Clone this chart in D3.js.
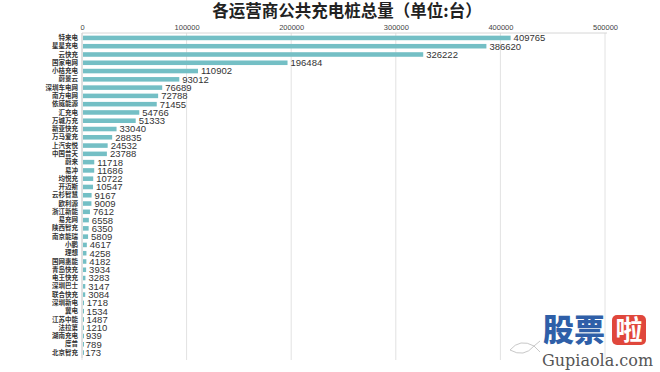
<!DOCTYPE html>
<html>
<head>
<meta charset="utf-8">
<script src="https://cdn.jsdelivr.net/npm/d3@7"></script>
<style>
  body { margin: 0; background: #fff; }
  svg { display: block; }
</style>
</head>
<body>
<div id="chart"></div>
<script>
// operators and number of public charging piles
var operators = ["特来电", "星星充电", "云快充", "国家电网", "小桔充电", "蔚景云", "深圳车电网", "南方电网",
  "依威能源", "汇充电", "万城万充", "新亚快充", "万马爱充", "上汽安悦", "中国普天", "蔚来", "易冲", "均悦充",
  "开迈斯", "云杉智慧", "欧利源", "浙江新能", "易充网", "陕西智充", "南京能瑞", "小鹏", "理想", "国网惠能",
  "青岛快充", "电王快充", "深圳巴士", "联合快充", "深圳新电", "冀电", "江苏中能", "法拉第", "湖南充电", "度普", "北京智充"];
var piles = [409765, 386620, 326222, 196484, 110902, 93012, 76689, 72788,
  71455, 54766, 51333, 33040, 28835, 24532, 23788, 11718, 11686, 10722,
  10547, 9167, 9009, 7612, 6558, 6350, 5809, 4617, 4258, 4182,
  3934, 3283, 3147, 3084, 1718, 1534, 1487, 1210, 939, 789, 173];
var tickValues = [0, 100000, 200000, 300000, 400000, 500000];

var width = 660, height = 372;

var svg = d3.select("#chart").append("svg")
  .attr("width", width)
  .attr("height", height);

// title
svg.append("text")
  .attr("x", 347)
  .attr("y", 17)
  .attr("text-anchor", "middle")
  .style("font-family", "'Noto Sans CJK SC'")
  .style("font-weight", 700)
  .style("font-size", "16.5px")
  .style("fill", "#222")
  .text("各运营商公共充电桩总量（单位:台）");

var x = d3.scaleLinear()
  .domain([0, 500000])
  .range([82, 605]);

var y = d3.scaleBand()
  .domain(operators)
  .range([34, 356.5])
  .paddingInner(0.45)
  .paddingOuter(0.2);

// gridlines
svg.append("g")
  .selectAll("line")
  .data(tickValues)
  .enter()
  .append("line")
  .attr("x1", function(d) { return x(d); })
  .attr("x2", function(d) { return x(d); })
  .attr("y1", 33)
  .attr("y2", 360)
  .attr("stroke", "#e2e2e2")
  .attr("stroke-width", 1);

svg.append("line")
  .attr("x1", x(0)).attr("x2", x(500000) + 2)
  .attr("y1", 33).attr("y2", 33)
  .attr("stroke", "#d6d6d6");

// top axis tick labels
var xAxis = svg.append("g")
  .attr("transform", "translate(0,30)")
  .call(d3.axisTop(x).tickValues(tickValues).tickSize(0).tickPadding(0).tickFormat(d3.format("d")));
xAxis.select(".domain").remove();
xAxis.selectAll("text")
  .style("font-family", "'Liberation Sans', Arial")
  .style("font-size", "7.5px")
  .style("fill", "#444");

// bars
svg.append("g")
  .selectAll("rect")
  .data(piles)
  .enter()
  .append("rect")
  .attr("x", x(0) + 1)
  .attr("y", function(d, i) { return y(operators[i]); })
  .attr("width", function(d) { return Math.max(x(d) - x(0) - 1, 1); })
  .attr("height", y.bandwidth())
  .attr("fill", "#74bfc5");

// value labels
svg.append("g")
  .selectAll("text")
  .data(piles)
  .enter()
  .append("text")
  .attr("x", function(d) { return x(d) + 3; })
  .attr("y", function(d, i) { return y(operators[i]) + y.bandwidth() / 2; })
  .attr("dy", "0.36em")
  .style("font-family", "'Liberation Sans', Arial")
  .style("font-size", "9.5px")
  .style("fill", "#333")
  .text(function(d) { return d; });

// category labels
var yAxis = svg.append("g")
  .attr("transform", "translate(" + (x(0) - 2) + ",0)")
  .call(d3.axisLeft(y).tickSize(0).tickPadding(2));
yAxis.select(".domain").remove();
yAxis.selectAll("text")
  .style("font-family", "'Noto Sans CJK SC'")
  .style("font-weight", 700)
  .style("font-size", "6.5px")
  .style("fill", "#333");

svg.append("line")
  .attr("x1", x(0)).attr("x2", x(0))
  .attr("y1", 33).attr("y2", 358)
  .attr("stroke", "#cfcfcf");

// watermark
var wm = svg.append("g");
wm.append("text")
  .attr("x", 543).attr("y", 341)
  .style("font-family", "'Noto Sans CJK SC'")
  .style("font-weight", 900)
  .style("font-size", "31px")
  .style("fill", "#2f5fa8")
  .text("股票");
wm.append("rect")
  .attr("x", 612).attr("y", 315)
  .attr("width", 34).attr("height", 30)
  .attr("rx", 5)
  .attr("fill", "#e0473c");
wm.append("text")
  .attr("x", 629).attr("y", 340)
  .attr("text-anchor", "middle")
  .style("font-family", "'Noto Sans CJK SC'")
  .style("font-weight", 700)
  .style("font-size", "27px")
  .style("fill", "#fff")
  .text("啦");
wm.append("text")
  .attr("x", 542).attr("y", 366)
  .style("font-family", "'DejaVu Serif', serif")
  .style("font-size", "16px")
  .style("fill", "#555")
  .text("Gupiaola.com");
wm.append("path")
  .attr("d", "M510,350 Q520,338 534,346 Q524,358 510,350 M534,346 L540,341 M534,346 L540,352")
  .attr("fill", "none")
  .attr("stroke", "#c8c8c8");
</script>
</body>
</html>
